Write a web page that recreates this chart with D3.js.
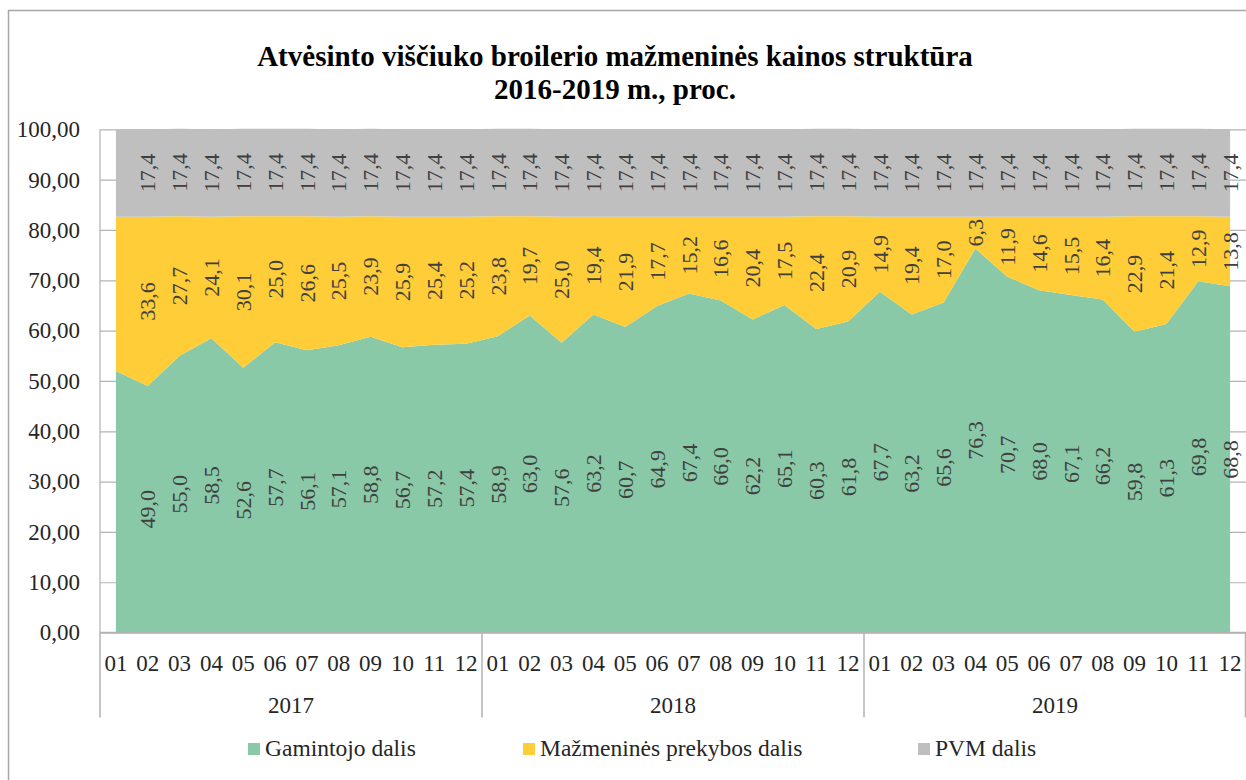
<!DOCTYPE html>
<html>
<head>
<meta charset="utf-8">
<script src="https://cdnjs.cloudflare.com/ajax/libs/d3/7.8.5/d3.min.js"></script>
<style>
  body { margin: 0; background: #fff; }
  text { font-family: 'Liberation Serif', Tinos, 'DejaVu Serif', serif; }
</style>
</head>
<body>
<div id="chart-area"></div>
<script>
// data
var years = ["2017", "2018", "2019"];
var months = ["01", "02", "03", "04", "05", "06", "07", "08", "09", "10", "11", "12"];

var gamintojo = [
    52.0, 49.0, 55.0, 58.5, 52.6, 57.7, 56.1, 57.1, 58.8, 56.7, 57.2, 57.4,
    58.9, 63.0, 57.6, 63.2, 60.7, 64.9, 67.4, 66.0, 62.2, 65.1, 60.3, 61.8,
    67.7, 63.2, 65.6, 76.3, 70.7, 68.0, 67.1, 66.2, 59.8, 61.3, 69.8, 68.8
];
var mazmenine = [
    30.6, 33.6, 27.7, 24.1, 30.1, 25.0, 26.6, 25.5, 23.9, 25.9, 25.4, 25.2,
    23.8, 19.7, 25.0, 19.4, 21.9, 17.7, 15.2, 16.6, 20.4, 17.5, 22.4, 20.9,
    14.9, 19.4, 17.0, 6.3, 11.9, 14.6, 15.5, 16.4, 22.9, 21.4, 12.9, 13.8
];
var pvm = [
    17.4, 17.4, 17.4, 17.4, 17.4, 17.4, 17.4, 17.4, 17.4, 17.4, 17.4, 17.4,
    17.4, 17.4, 17.4, 17.4, 17.4, 17.4, 17.4, 17.4, 17.4, 17.4, 17.4, 17.4,
    17.4, 17.4, 17.4, 17.4, 17.4, 17.4, 17.4, 17.4, 17.4, 17.4, 17.4, 17.4
];
var seriesNames = ["Gamintojo dalis", "Mažmeninės prekybos dalis", "PVM dalis"];
var seriesKeys = ["gam", "maz", "pvm"];
var colors = ["#89c9a8", "#fecd37", "#bfbfbf"];
var yTicks = [0, 10, 20, 30, 40, 50, 60, 70, 80, 90, 100];

var serif = "'Liberation Serif', Tinos, 'DejaVu Serif', serif";

var W = 1246, H = 780;
var margin = {top: 129.3, right: 0, bottom: 147.4, left: 100};
var width = W - margin.left - margin.right,
    height = H - margin.top - margin.bottom;

var rows = [];
years.forEach(function(y, yi) {
    months.forEach(function(m, mi) {
        var i = yi * 12 + mi;
        rows.push({key: y + "-" + m, year: y, month: m, gam: gamintojo[i], maz: mazmenine[i], pvm: pvm[i]});
    });
});

var svg = d3.select("#chart-area")
    .append("svg")
        .attr("width", W)
        .attr("height", H)
        .attr("font-family", serif);

// chart frame (runs off the right / bottom of the picture)
svg.append("rect")
    .attr("x", 8.5).attr("y", 10.5)
    .attr("width", W + 20).attr("height", H + 20)
    .attr("fill", "none")
    .attr("stroke", "#a6a6a6")
    .attr("stroke-width", 1.5);

svg.append("text")
    .attr("x", 615).attr("y", 66)
    .attr("text-anchor", "middle")
    .style("font-weight", "bold")
    .style("font-size", "29px")
    .text("Atvėsinto viščiuko broilerio mažmeninės kainos struktūra");
svg.append("text")
    .attr("x", 615).attr("y", 99)
    .attr("text-anchor", "middle")
    .style("font-weight", "bold")
    .style("font-size", "29px")
    .text("2016-2019 m., proc.");

var g = svg.append("g")
    .attr("transform", "translate(" + margin.left + "," + margin.top + ")");

var x = d3.scaleBand()
    .domain(rows.map(d => d.key))
    .range([0, width])
    .padding(0);
var xc = function(k) { return x(k) + x.bandwidth() / 2; };

var y = d3.scaleLinear()
    .domain([0, 100])
    .range([height, 0]);

var fmt = function(v) { return d3.format(".2f")(v).replace(".", ","); };
var fmt1 = function(v) { return d3.format(".1f")(v).replace(".", ","); };

// gridlines + y axis
g.append("g")
    .attr("class", "y-axis")
    .call(d3.axisLeft(y).tickValues(yTicks).tickSize(-width).tickPadding(20).tickFormat(fmt))
    .attr("font-family", serif)
    .call(a => a.select(".domain").remove())
    .call(a => a.selectAll("line").attr("stroke", "#b3b3b3").attr("stroke-width", 1.2))
    .call(a => a.selectAll("text").attr("fill", "#262626").style("font-size", "23px"));

// stacked areas
var stack = d3.stack().keys(seriesKeys);
var layers = stack(rows);

var area = d3.area()
    .x(d => xc(d.data.key))
    .y0(d => y(d[0]))
    .y1(d => y(d[1]));

g.append("g")
    .attr("class", "curves")
    .selectAll("path")
    .data(layers)
    .enter()
    .append("path")
        .attr("fill", (d, i) => colors[i])
        .attr("d", area);

// y axis line
g.append("line")
    .attr("x1", 0).attr("x2", 0)
    .attr("y1", 0).attr("y2", height)
    .attr("stroke", "#b3b3b3").attr("stroke-width", 1.2);

// data labels (the first month has none in the original)
var labels = g.append("g").attr("class", "labels");
layers.forEach(function(layer) {
    labels.selectAll(null)
        .data(layer.filter((d, i) => i > 0))
        .enter()
        .append("text")
            .attr("transform", d => "translate(" + xc(d.data.key) + "," + y((d[0] + d[1]) / 2) + ") rotate(-90)")
            .attr("text-anchor", "middle")
            .attr("dy", "0.35em")
            .attr("fill", "#404040")
            .style("font-size", "22px")
            .text(d => fmt1(d[1] - d[0]));
});

// category axis (months + years)
var xa = g.append("g")
    .attr("class", "x-axis")
    .attr("transform", "translate(0," + height + ")");

xa.append("line")
    .attr("x1", 0).attr("x2", width)
    .attr("stroke", "#b3b3b3").attr("stroke-width", 1.5);

xa.selectAll(".sep")
    .data([0, 12, 24, 36])
    .enter()
    .append("line")
        .attr("x1", i => i < 36 ? x(rows[i].key) : width - 0.5)
        .attr("x2", i => i < 36 ? x(rows[i].key) : width - 0.5)
        .attr("y1", 0).attr("y2", 85)
        .attr("stroke", "#b3b3b3").attr("stroke-width", 1.5);

xa.selectAll(".month")
    .data(rows)
    .enter()
    .append("text")
        .attr("x", d => xc(d.key))
        .attr("y", 38)
        .attr("text-anchor", "middle")
        .attr("fill", "#262626")
        .style("font-size", "23px")
        .text(d => d.month);

xa.selectAll(".year")
    .data(years)
    .enter()
    .append("text")
        .attr("x", (d, i) => (x(rows[i * 12].key) + x(rows[i * 12 + 11].key) + x.bandwidth()) / 2)
        .attr("y", 80)
        .attr("text-anchor", "middle")
        .attr("fill", "#262626")
        .style("font-size", "23px")
        .text(d => d);

// legend
var legendX = [248, 523, 918];
var legend = svg.append("g").attr("class", "legend");
seriesNames.forEach(function(name, i) {
    legend.append("rect")
        .attr("x", legendX[i]).attr("y", 743)
        .attr("width", 12).attr("height", 12)
        .attr("fill", colors[i]);
    legend.append("text")
        .attr("x", legendX[i] + 17).attr("y", 756)
        .attr("fill", "#262626")
        .style("font-size", "23.5px")
        .text(name);
});
</script>
</body>
</html>
